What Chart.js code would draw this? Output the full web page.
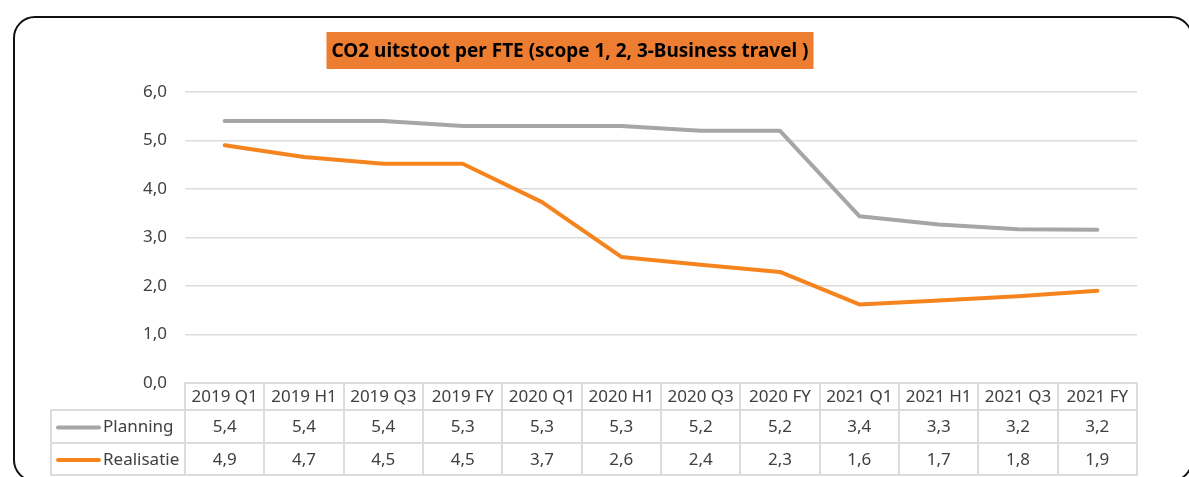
<!DOCTYPE html>
<html>
<head>
<meta charset="utf-8">
<script src="https://cdn.jsdelivr.net/npm/chart.js@4"></script>
<style>
  html, body { margin: 0; padding: 0; background: #fff; overflow: hidden; }
  #frame { position: absolute; left: 13px; top: 16px; width: 1176px; height: 462px; border: 2px solid #111; border-radius: 22px; }
  #wrap { position: absolute; left: 0; top: 0; width: 1189px; height: 477px; }
</style>
</head>
<body>
<div id="frame"></div>
<div id="wrap"><canvas id="co2-chart"></canvas></div>
<script>
// values
const categories = ['2019 Q1', '2019 H1', '2019 Q3', '2019 FY', '2020 Q1', '2020 H1', '2020 Q3', '2020 FY', '2021 Q1', '2021 H1', '2021 Q3', '2021 FY'];
const planning   = [5.4, 5.4, 5.4, 5.3, 5.3, 5.3, 5.2, 5.2, 3.44, 3.27, 3.17, 3.16];
const realisatie = [4.9, 4.66, 4.52, 4.52, 3.73, 2.6, 2.44, 2.29, 1.62, 1.7, 1.79, 1.9];
const yTickLabels = ['0,0', '1,0', '2,0', '3,0', '4,0', '5,0', '6,0'];

const titleText = 'CO2 uitstoot per FTE (scope 1, 2, 3-Business travel )';
const FONT = '"Noto Sans", "Open Sans", sans-serif';
const GRAY = '#a6a6a6';
const ORANGE = '#f5841f';
const TEXT = '#404040';
const GRID = '#dcdcdc';

const fmt = v => v.toFixed(1).replace('.', ',');

// title with orange box, text squeezed to the box width (Calibri is narrower)
const titleBox = {
  id: 'titleBox',
  beforeDraw(chart) {
    const { ctx } = chart;
    const cx = 570, top = 32, h = 37, textW = 477;
    ctx.save();
    ctx.fillStyle = '#ed7d31';
    ctx.fillRect(cx - textW / 2 - 5, top, textW + 10, h);
    ctx.font = `bold 20px ${FONT}`;
    const k = textW / ctx.measureText(titleText).width;
    ctx.translate(cx, top + h / 2 + 1);
    ctx.scale(k, 1);
    ctx.fillStyle = '#000';
    ctx.textAlign = 'center';
    ctx.textBaseline = 'middle';
    ctx.fillText(titleText, 0, 0);
    ctx.restore();
  }
};

// data table under the plot
const dataTable = {
  id: 'dataTable',
  afterDraw(chart) {
    const { ctx, chartArea: a, scales: { x } } = chart;
    const step = x.getPixelForValue(1) - x.getPixelForValue(0);
    const rows = [a.bottom, a.bottom + 27, a.bottom + 60, a.bottom + 92];
    const legendLeft = 51;
    const ln = (x1, y1, x2, y2) => {
      ctx.beginPath();
      ctx.moveTo(Math.round(x1), Math.round(y1));
      ctx.lineTo(Math.round(x2), Math.round(y2));
      ctx.stroke();
    };
    ctx.save();
    ctx.strokeStyle = GRID;
    ctx.lineWidth = 2;
    ln(a.left - 1, rows[0], a.right + 1, rows[0]);
    for (let r = 1; r < rows.length; r++) ln(legendLeft - 1, rows[r], a.right + 1, rows[r]);
    ln(legendLeft, rows[1], legendLeft, rows[3]);
    for (let i = 0; i <= categories.length; i++) {
      const xx = a.left + i * step;
      ln(xx, rows[0], xx, rows[3]);
    }

    ctx.font = `17px ${FONT}`;
    ctx.fillStyle = TEXT;
    ctx.textBaseline = 'middle';
    ctx.textAlign = 'center';
    categories.forEach((c, i) => ctx.fillText(c, x.getPixelForValue(i), (rows[0] + rows[1]) / 2 + 1));

    chart.data.datasets.forEach((ds, r) => {
      const cy = (rows[r + 1] + rows[r + 2]) / 2 + 1;
      ctx.textAlign = 'center';
      ctx.fillStyle = TEXT;
      ds.data.forEach((v, i) => ctx.fillText(fmt(v), x.getPixelForValue(i), cy));
      ctx.strokeStyle = ds.borderColor;
      ctx.lineWidth = 4;
      ctx.lineCap = 'round';
      ctx.beginPath();
      ctx.moveTo(58, cy);
      ctx.lineTo(99, cy);
      ctx.stroke();
      ctx.textAlign = 'left';
      ctx.fillText(ds.label, 103, cy);
    });
    ctx.restore();
  }
};

new Chart(document.getElementById('co2-chart'), {
  type: 'line',
  data: {
    labels: categories,
    datasets: [
      { label: 'Planning', data: planning, borderColor: GRAY, borderWidth: 4, pointRadius: 0, tension: 0,
        borderJoinStyle: 'round', borderCapStyle: 'round' },
      { label: 'Realisatie', data: realisatie, borderColor: ORANGE, borderWidth: 4, pointRadius: 0, tension: 0,
        borderJoinStyle: 'round', borderCapStyle: 'round' }
    ]
  },
  options: {
    responsive: true, maintainAspectRatio: false, animation: false,
    layout: { padding: { top: 92, right: 52, bottom: 94, left: 0 } },
    plugins: { legend: { display: false }, title: { display: false }, tooltip: { enabled: false } },
    scales: {
      x: { type: 'category', display: false, offset: true },
      y: {
        min: 0, max: 6,
        afterFit: s => { s.width = 185; },
        border: { display: false },
        grid: { color: GRID, lineWidth: 1.5, drawTicks: false },
        ticks: { stepSize: 1, padding: 18, color: TEXT, font: { family: FONT, size: 17 },
          callback: (v, i) => yTickLabels[i] }
      }
    }
  },
  plugins: [titleBox, dataTable]
});
</script>
</body>
</html>
